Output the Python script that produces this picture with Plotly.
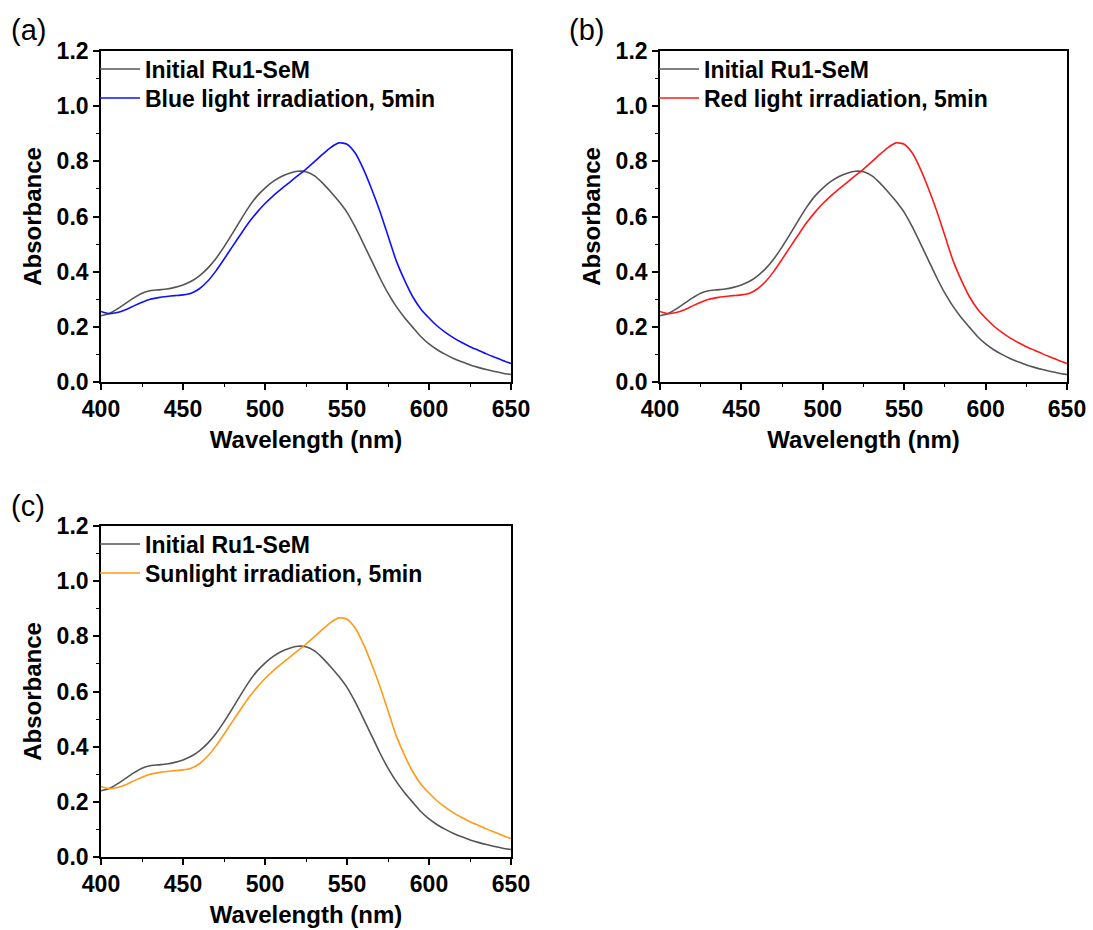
import plotly.graph_objects as go

# Wavelength grid (nm)
wavelength = [400, 405, 410, 415, 420, 425, 430, 435, 440, 445, 450, 455, 460, 465,
              470, 475, 480, 485, 490, 495, 500, 505, 510, 515, 520, 525, 530, 535,
              540, 545, 550, 555, 560, 565, 570, 575, 580, 585, 590, 595, 600, 605,
              610, 615, 620, 625, 630, 635, 640, 645, 650]

# Initial Ru1-SeM absorbance
initial = [0.240, 0.248, 0.265, 0.285, 0.305, 0.322, 0.331, 0.334, 0.337, 0.343,
           0.352, 0.365, 0.385, 0.412, 0.447, 0.490, 0.537, 0.586, 0.633, 0.673,
           0.703, 0.727, 0.745, 0.757, 0.764, 0.762, 0.748, 0.722, 0.690, 0.655,
           0.615, 0.562, 0.502, 0.440, 0.378, 0.322, 0.274, 0.234, 0.199, 0.165,
           0.138, 0.117, 0.100, 0.085, 0.073, 0.062, 0.053, 0.045, 0.038, 0.032, 0.027]

# Absorbance after irradiation (5 min)
blue_irr = [0.256, 0.248, 0.252, 0.262, 0.276, 0.289, 0.300, 0.306, 0.310, 0.313,
            0.316, 0.322, 0.338, 0.365, 0.402, 0.445, 0.490, 0.534, 0.577, 0.614,
            0.647, 0.675, 0.700, 0.724, 0.748, 0.772, 0.798, 0.825, 0.850, 0.867,
            0.862, 0.830, 0.772, 0.700, 0.620, 0.530, 0.440, 0.370, 0.310, 0.265,
            0.232, 0.203, 0.180, 0.160, 0.143, 0.128, 0.115, 0.102, 0.090, 0.078, 0.067]
red_irr = list(blue_irr)
sun_irr = list(blue_irr)

panels = [
    ("(a)", "Blue light irradiation, 5min", blue_irr, "#1010ff"),
    ("(b)", "Red light irradiation, 5min", red_irr, "#ff1a1a"),
    ("(c)", "Sunlight irradiation, 5min", sun_irr, "#ff9a1a"),
]

W, H = 1093, 930
# plot boxes in pixels: (left, right, top, bottom)
boxes = [(101, 511, 51, 382), (660, 1067, 51, 382), (101, 511, 526, 857)]
label_pos = [(28, 30), (586, 30), (28, 506)]

FONT = "Liberation Sans, Arial, sans-serif"
fig = go.Figure()
layout = dict(
    width=W, height=H, margin=dict(l=0, r=0, t=0, b=0, autoexpand=False),
    paper_bgcolor="white", plot_bgcolor="white",
    font=dict(family=FONT, color="black"),
    annotations=[], showlegend=True,
)

for i, (lab, name, irr, col) in enumerate(panels):
    n = "" if i == 0 else str(i + 1)
    legA = "legend" if i == 0 else f"legend{2 * i + 1}"
    legB = f"legend{2 * i + 2}"
    l, r, t, b = boxes[i]
    fig.add_trace(go.Scatter(x=wavelength, y=initial, mode="lines", name="Initial Ru1-SeM",
                             line=dict(color="#555555", width=1.6, shape="spline", smoothing=0.6),
                             xaxis="x" + n, yaxis="y" + n, legend=legA))
    fig.add_trace(go.Scatter(x=wavelength, y=irr, mode="lines", name=name,
                             line=dict(color=col, width=1.6, shape="spline", smoothing=0.6),
                             xaxis="x" + n, yaxis="y" + n, legend=legB))
    axcommon = dict(showline=True, linecolor="black", linewidth=1.6, mirror=True,
                    ticks="outside", ticklen=6, tickwidth=1.5, tickcolor="black",
                    showgrid=False, zeroline=False, automargin=False,
                    tickfont=dict(family=FONT, size=23, color="black", weight="bold"))
    layout["xaxis" + n] = dict(axcommon, domain=[l / W, r / W], anchor="y" + n,
                               range=[400, 650], dtick=50, tick0=400,
                               minor=dict(ticks="outside", ticklen=3, dtick=25, tickcolor="black", tickwidth=1.2),
                               title=dict(text="<b>Wavelength (nm)</b>", font=dict(size=24), standoff=10))
    layout["yaxis" + n] = dict(axcommon, domain=[1 - b / H, 1 - t / H], anchor="x" + n,
                               range=[0, 1.2], dtick=0.2, tick0=0, tickformat=".1f",
                               minor=dict(ticks="outside", ticklen=3, dtick=0.1, tickcolor="black", tickwidth=1.2),
                               title=dict(text="<b>Absorbance</b>", font=dict(size=24), standoff=8))
    for k, leg in enumerate((legA, legB)):
        cy = t + 18 + 29 * k  # centre of legend entry in px
        layout[leg] = dict(x=(l - 6) / W, y=1 - cy / H, xanchor="left", yanchor="middle",
                           bgcolor="rgba(0,0,0,0)", borderwidth=0, itemwidth=40,
                           font=dict(family=FONT, size=23, color="black", weight="bold"))
    lx, ly = label_pos[i]
    layout["annotations"].append(dict(text=lab, x=lx / W, y=1 - ly / H, xref="paper", yref="paper",
                                      showarrow=False, xanchor="center", yanchor="middle",
                                      font=dict(family=FONT, size=29, color="black")))

fig.update_layout(**layout)
fig.write_html("out.html")
